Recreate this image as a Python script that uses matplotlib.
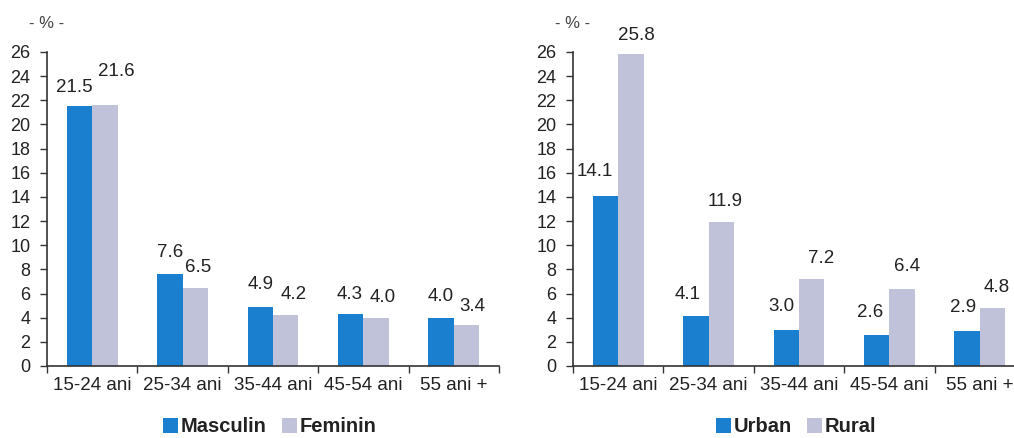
import matplotlib
matplotlib.use("Agg")
import matplotlib.pyplot as plt
import numpy as np

categories = ["15-24 ani", "25-34 ani", "35-44 ani", "45-54 ani", "55 ani +"]
masculin = [21.5, 7.6, 4.9, 4.3, 4.0]
feminin = [21.6, 6.5, 4.2, 4.0, 3.4]
urban = [14.1, 4.1, 3.0, 2.6, 2.9]
rural = [25.8, 11.9, 7.2, 6.4, 4.8]
yticks = list(range(0, 27, 2))

BLUE = "#1a7fcf"
GRAY = "#bfc2d8"
TXT = "#222222"
AX = "#333333"
FONT = ["Liberation Sans", "DejaVu Sans"]
plt.rcParams["font.family"] = FONT

# label offsets in pixels (dx, dy) from bar top center to label center
off_left_a = [(-5, 19), (0, 22), (0, 22), (-1, 20), (0, 21)]
off_left_b = [(11, 34), (3, 20), (8, 21), (7, 20), (6, 18)]
off_right_a = [(-11, 24), (-8, 22), (-5, 23), (-7, 22), (-4, 23)]
off_right_b = [(6, 19), (4, 21), (9, 21), (5, 22), (4, 21)]

fig = plt.figure(figsize=(10.14, 4.38), dpi=100)
H = 438.0
W = 1014.0
PX = 0.72  # points per pixel at 100 dpi


def make_ax(x0, a_vals, b_vals, la, lb, offa, offb, legx):
    ax = fig.add_axes([x0 / W, (H - 366) / H, 452 / W, 314 / H])
    x = np.arange(len(categories))
    w = 0.28
    ba = ax.bar(x - w / 2, a_vals, w, color=BLUE, label=la, zorder=2)
    bb = ax.bar(x + w / 2, b_vals, w, color=GRAY, label=lb, zorder=2)
    for bars, vals, offs in ((ba, a_vals, offa), (bb, b_vals, offb)):
        for rect, v, (dx, dy) in zip(bars, vals, offs):
            ax.annotate(f"{v:.1f}", (rect.get_x() + rect.get_width() / 2, v),
                        xytext=(dx * PX, dy * PX), textcoords="offset points",
                        ha="center", va="center", fontsize=13.5, color=TXT,
                        annotation_clip=False)
    ax.set_xlim(-0.5, len(categories) - 0.5)
    ax.set_ylim(0, 26)
    ax.set_yticks(yticks)
    ax.set_xticks(np.arange(len(categories) + 1) - 0.5)
    ax.set_xticklabels([])
    ax.set_xticks(x, minor=True)
    ax.set_xticklabels(categories, minor=True, fontsize=13.5, color=TXT)
    ax.tick_params(axis="x", which="minor", length=0, pad=8)
    ax.tick_params(axis="x", which="major", length=5, width=1, color=AX, direction="out")
    ax.tick_params(axis="y", length=5, width=1, color=AX, labelsize=13,
                   labelcolor=TXT, pad=7)
    for s in ["top", "right"]:
        ax.spines[s].set_visible(False)
    for s in ["left", "bottom"]:
        ax.spines[s].set_color(AX)
        ax.spines[s].set_linewidth(1.2)
    ax.text(0.0, 1 + 29 / 314, "- % -", transform=ax.transAxes, fontsize=12,
            color="#444444", ha="center", va="center")
    leg = ax.legend(loc="center", bbox_to_anchor=(legx, -61 / 314), ncol=2,
                    frameon=False, handlelength=0.75, handleheight=0.75,
                    handletextpad=0.12, columnspacing=0.75, borderpad=0.2,
                    prop={"weight": "bold", "size": 14.5, "family": FONT})
    for t in leg.get_texts():
        t.set_color(TXT)
    return ax


make_ax(47, masculin, feminin, "Masculin", "Feminin", off_left_a, off_left_b, 0.493)
make_ax(573, urban, rural, "Urban", "Rural", off_right_a, off_right_b, 0.493)

fig.savefig("out.png", dpi=100, facecolor="white")
